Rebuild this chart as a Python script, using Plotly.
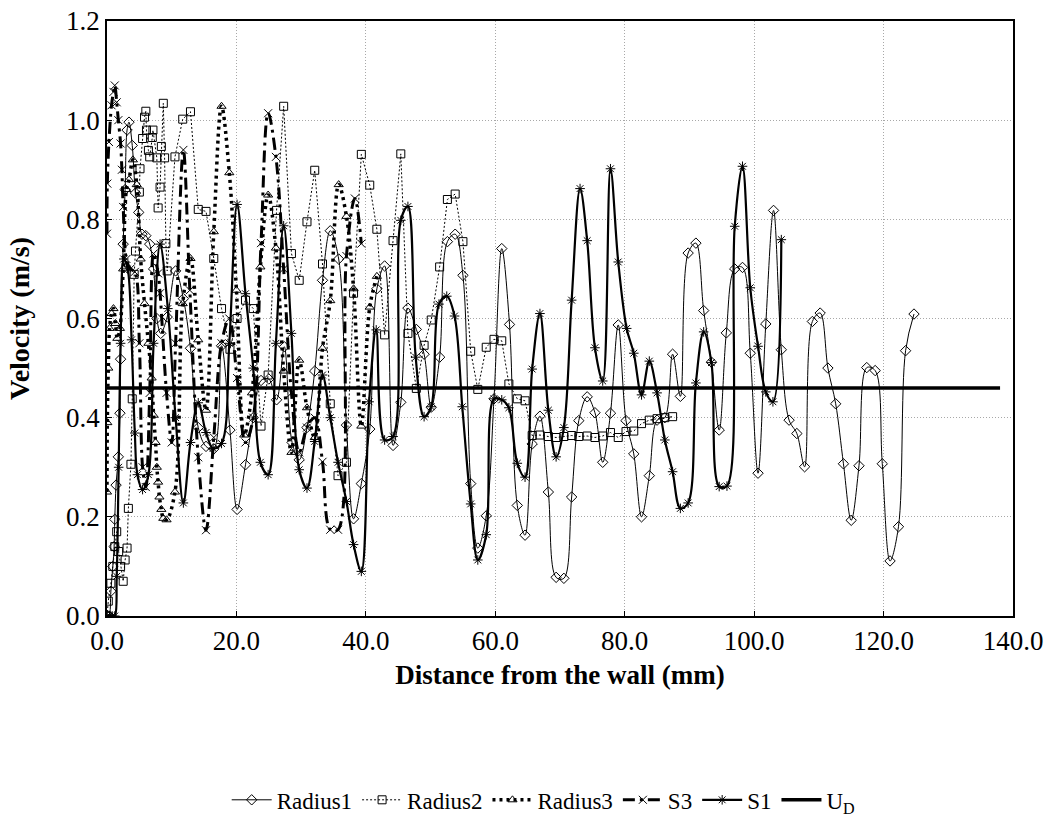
import plotly.graph_objects as go

# Velocity profiles: distance from the wall (mm) vs. velocity (m/s)
R1_X = [0.0, 0.3, 0.6, 0.9, 1.1, 1.2, 1.4, 1.75, 2.0, 2.1, 2.5, 2.8, 3.1, 3.4, 3.9, 4.4, 4.9, 5.4, 6.0, 6.6,
        7.2, 7.7, 8.3, 9.3, 10.6, 11.8, 12.9, 14.1, 15.3, 16.5, 17.7, 19.0, 20.1, 21.4, 22.6, 23.8, 25.0, 26.2, 27.4, 28.6,
        29.7, 30.9, 32.1, 33.3, 34.5, 35.8, 37.0, 38.1, 39.3, 40.6, 41.7, 42.9, 44.2, 45.4, 46.5, 47.8, 49.0, 50.1, 51.4, 52.6,
        53.8, 55.0, 56.2, 57.3, 58.6, 59.8, 61.0, 62.2, 63.4, 64.6, 65.7, 66.9, 68.2, 69.4, 70.6, 71.8, 72.9, 74.2, 75.4, 76.6,
        77.8, 79.0, 80.2, 81.4, 82.6, 83.8, 85.0, 86.2, 87.4, 88.6, 89.8, 91.0, 92.2, 93.4, 94.6, 95.7, 97.0, 98.2, 99.4, 100.6,
        101.8, 103.0, 104.2, 105.4, 106.6, 107.8, 109.0, 110.2, 111.4, 112.6, 113.8, 115.0, 116.2, 117.4, 118.7, 119.8, 121.0, 122.3, 123.4, 124.7]
R1_Y = [0.0, 0.0, 0.05, 0.10, 0.14, 0.195, 0.264, 0.321, 0.409, 0.518, 0.75, 0.86, 0.98, 0.996, 0.949, 0.853, 0.814, 0.77, 0.767, 0.75,
        0.70, 0.60, 0.57, 0.603, 0.696, 0.64, 0.54, 0.38, 0.342, 0.337, 0.545, 0.375, 0.215, 0.305, 0.40, 0.475, 0.478, 0.436, 0.543, 0.35,
        0.315, 0.38, 0.494, 0.677, 0.777, 0.72, 0.385, 0.196, 0.267, 0.377, 0.66, 0.706, 0.344, 0.431, 0.621, 0.578, 0.528, 0.421, 0.522, 0.755,
        0.77, 0.687, 0.267, 0.137, 0.202, 0.438, 0.741, 0.588, 0.223, 0.163, 0.347, 0.403, 0.25, 0.078, 0.076, 0.24, 0.394, 0.442, 0.41, 0.31,
        0.409, 0.587, 0.394, 0.327, 0.20, 0.283, 0.395, 0.40, 0.528, 0.443, 0.732, 0.752, 0.616, 0.512, 0.375, 0.571, 0.70, 0.703, 0.53, 0.288,
        0.589, 0.818, 0.537, 0.395, 0.368, 0.301, 0.594, 0.611, 0.50, 0.428, 0.307, 0.193, 0.303, 0.501, 0.495, 0.307, 0.111, 0.18, 0.535, 0.609]

R2_X = [0.0, 0.2, 0.6, 0.9, 1.2, 1.5, 1.8, 2.1, 2.5, 2.8, 3.1, 3.3, 3.7, 3.9, 4.2, 4.4, 5.0, 5.1, 5.5, 5.8,
        6.0, 6.1, 6.4, 6.6, 7.0, 7.1, 7.7, 7.9, 8.2, 8.4, 8.7, 8.9, 9.1, 9.3, 10.5, 11.7, 12.9, 14.1, 15.3, 16.5,
        17.7, 19.0, 20.1, 21.4, 22.6, 23.8, 24.9, 26.2, 27.3, 28.5, 29.7, 30.9, 32.1, 33.3, 34.5, 35.7, 37.0, 38.1, 39.3, 40.6,
        41.7, 42.9, 44.2, 45.4, 46.5, 47.8, 49.0, 50.1, 51.4, 52.6, 53.8, 55.0, 56.2, 57.3, 58.6, 59.8, 61.0, 62.1, 63.4, 64.6,
        65.7, 66.9, 68.2, 69.4, 70.6, 71.8, 72.9, 74.2, 75.4, 76.6, 77.8, 79.0, 80.2, 81.4, 82.6, 83.8, 85.0, 86.2, 87.4]
R2_Y = [0.0, 0.03, 0.066, 0.10, 0.14, 0.17, 0.13, 0.10, 0.07, 0.113, 0.137, 0.217, 0.306, 0.438, 0.689, 0.736, 0.855, 0.902, 0.963, 1.006,
        1.018, 0.98, 0.939, 0.926, 0.965, 0.98, 0.924, 0.823, 0.865, 0.947, 1.034, 0.924, 0.751, 0.696, 0.926, 1.002, 1.017, 0.82, 0.816, 0.721,
        0.62, 0.538, 0.60, 0.637, 0.62, 0.383, 0.486, 0.818, 1.028, 0.731, 0.677, 0.795, 0.899, 0.71, 0.428, 0.283, 0.31, 0.651, 0.931, 0.869,
        0.78, 0.567, 0.757, 0.932, 0.57, 0.459, 0.546, 0.597, 0.704, 0.84, 0.851, 0.755, 0.534, 0.457, 0.542, 0.558, 0.555, 0.468, 0.438, 0.434,
        0.364, 0.365, 0.362, 0.36, 0.362, 0.364, 0.362, 0.363, 0.36, 0.363, 0.37, 0.36, 0.372, 0.373, 0.388, 0.395, 0.398, 0.40, 0.402]

R3_X = [0.0, 0.05, 0.2, 0.4, 0.7, 1.0, 1.3, 1.6, 2.0, 2.5, 3.0, 3.4, 4.0, 4.6, 5.2, 5.8, 6.4, 6.9, 7.2, 7.5,
        7.7, 7.9, 8.1, 8.4, 8.7, 9.2, 10.5, 11.7, 12.9, 14.1, 15.3, 16.5, 17.7, 18.9, 20.0, 21.2, 22.4, 23.7, 24.9, 26.1,
        27.3, 28.5, 29.7, 30.9, 32.1, 33.3, 34.5, 35.8, 37.0, 38.1, 39.3, 40.6, 41.7]
R3_Y = [0.25, 0.39, 0.50, 0.58, 0.61, 0.62, 0.59, 0.56, 0.58, 0.70, 0.86, 0.88, 0.92, 0.87, 0.72, 0.63, 0.55, 0.48, 0.405, 0.35,
        0.30, 0.27, 0.24, 0.215, 0.197, 0.194, 0.25, 0.63, 0.721, 0.557, 0.415, 0.775, 1.028, 0.894, 0.657, 0.365, 0.45, 0.704, 0.849, 0.742,
        0.494, 0.33, 0.516, 0.42, 0.36, 0.54, 0.636, 0.87, 0.806, 0.66, 0.383, 0.623, 0.685]

S3_X = [0.0, 0.05, 0.3, 0.7, 1.0, 1.2, 1.5, 1.75, 2.1, 2.3, 2.5, 3.0, 3.6, 4.3, 5.0, 5.5, 6.0, 6.6, 7.2, 7.9,
        8.2, 9.2, 10.0, 10.6, 11.8, 12.8, 14.1, 15.3, 16.5, 17.7, 18.9, 20.1, 21.4, 22.6, 23.8, 24.9, 26.1, 27.3, 28.5, 29.7,
        30.9, 32.1, 33.3, 34.5, 35.7, 37.0, 38.3, 39.3]
S3_Y = [0.771, 0.872, 0.956, 1.03, 1.057, 1.07, 1.036, 1.0, 0.953, 0.90, 0.825, 0.72, 0.70, 0.694, 0.55, 0.30, 0.26, 0.45, 0.731, 0.691,
        0.651, 0.45, 0.35, 0.55, 0.94, 0.657, 0.32, 0.173, 0.36, 0.55, 0.60, 0.48, 0.35, 0.40, 0.752, 1.014, 0.926, 0.70, 0.45, 0.33,
        0.38, 0.40, 0.311, 0.174, 0.174, 0.726, 0.842, 0.751]

S1_X = [0.0, 0.4, 0.8, 1.2, 1.5, 1.8, 2.1, 2.6, 3.2, 3.8, 4.3, 4.7, 5.5, 6.4, 7.2, 8.2, 9.4, 10.6, 11.8, 12.9,
        14.1, 15.3, 16.4, 17.7, 18.9, 20.1, 21.4, 22.6, 23.7, 24.9, 26.1, 27.3, 28.5, 29.7, 30.9, 32.1, 33.3, 34.5, 35.7, 37.0,
        38.1, 39.3, 40.5, 41.6, 42.9, 44.2, 45.4, 46.5, 47.7, 49.0, 50.1, 51.3, 52.5, 53.7, 54.9, 56.2, 57.3, 58.6, 59.8, 61.0,
        62.1, 63.4, 64.6, 65.7, 66.9, 68.2, 69.4, 70.6, 71.8, 73.1, 74.2, 75.4, 76.6, 77.8, 79.0, 80.3, 81.4, 82.6, 83.8, 85.0,
        86.2, 87.4, 88.6, 89.8, 91.0, 92.2, 93.4, 94.6, 95.8, 97.0, 98.2, 99.4, 100.6, 101.8, 102.9, 104.2]
S1_Y = [0.0, 0.0, 0.0, 0.0, 0.08, 0.30, 0.55, 0.72, 0.70, 0.557, 0.369, 0.285, 0.255, 0.285, 0.55, 0.75, 0.62, 0.40, 0.228, 0.35,
        0.43, 0.37, 0.338, 0.348, 0.55, 0.83, 0.65, 0.50, 0.31, 0.285, 0.55, 0.787, 0.57, 0.295, 0.258, 0.352, 0.486, 0.40, 0.31, 0.231,
        0.144, 0.09, 0.432, 0.577, 0.355, 0.362, 0.798, 0.826, 0.522, 0.402, 0.422, 0.629, 0.645, 0.605, 0.422, 0.226, 0.113, 0.164, 0.438, 0.436,
        0.42, 0.308, 0.28, 0.498, 0.61, 0.415, 0.321, 0.38, 0.637, 0.862, 0.757, 0.541, 0.474, 0.902, 0.714, 0.58, 0.53, 0.446, 0.514, 0.45,
        0.355, 0.291, 0.217, 0.228, 0.47, 0.573, 0.511, 0.261, 0.262, 0.786, 0.907, 0.662, 0.544, 0.452, 0.432, 0.759]

UD_X = [0.0, 138.0]
UD_Y = [0.46, 0.46]

X_TICKS = [0, 20, 40, 60, 80, 100, 120, 140]
Y_TICKS = [0.0, 0.2, 0.4, 0.6, 0.8, 1.0, 1.2]

FONT = "Liberation Serif"
BLACK = "#000000"

fig = go.Figure()

fig.add_trace(go.Scatter(
    x=R1_X, y=R1_Y, name="Radius1", mode="lines+markers",
    line=dict(color=BLACK, width=1, shape="spline", smoothing=1.0),
    marker=dict(symbol="diamond-open", size=8, color=BLACK, line=dict(width=1)),
))
fig.add_trace(go.Scatter(
    x=R2_X, y=R2_Y, name="Radius2", mode="lines+markers",
    line=dict(color=BLACK, width=1, dash="2px,2px"),
    marker=dict(symbol="square-open", size=8, color=BLACK, line=dict(width=1)),
))
fig.add_trace(go.Scatter(
    x=R3_X, y=R3_Y, name="Radius3", mode="lines+markers",
    line=dict(color=BLACK, width=3.5, dash="3px,4px", shape="spline", smoothing=1.0),
    marker=dict(symbol="triangle-up-open", size=8, color=BLACK, line=dict(width=1)),
))
fig.add_trace(go.Scatter(
    x=S3_X, y=S3_Y, name="S3", mode="lines+markers",
    line=dict(color=BLACK, width=3, dash="12px,5px,3px,5px", shape="spline", smoothing=1.0),
    marker=dict(symbol="x-thin-open", size=8, color=BLACK, line=dict(width=1, color=BLACK)),
))
fig.add_trace(go.Scatter(
    x=S1_X, y=S1_Y, name="S1", mode="lines+markers",
    line=dict(color=BLACK, width=2.2, shape="spline", smoothing=1.0),
    marker=dict(symbol="asterisk-open", size=8, color=BLACK, line=dict(width=1, color=BLACK)),
))
fig.add_trace(go.Scatter(
    x=UD_X, y=UD_Y, name="U<sub>D</sub>", mode="lines",
    line=dict(color=BLACK, width=3.5),
))

axis_common = dict(
    showline=True, linecolor=BLACK, linewidth=1.5, mirror=True,
    showgrid=True, gridcolor="#a8a8a8", gridwidth=1, griddash="1px,2px",
    ticks="inside", ticklen=5, tickcolor=BLACK,
    zeroline=False, tickfont=dict(family=FONT, size=27, color=BLACK),
)

fig.update_xaxes(
    range=[0, 140], tickvals=X_TICKS, tickformat=".1f",
    title=dict(text="<b>Distance from the wall (mm)</b>", font=dict(family=FONT, size=27, color=BLACK), standoff=10),
    **axis_common,
)
fig.update_yaxes(
    range=[0, 1.2], tickvals=Y_TICKS, tickformat=".1f",
    title=dict(text="<b>Velocity (m/s)</b>", font=dict(family=FONT, size=28, color=BLACK), standoff=28),
    **axis_common,
)

fig.update_layout(
    width=1055, height=820,
    margin=dict(l=107, r=42, t=21, b=204, autoexpand=False),
    paper_bgcolor="white", plot_bgcolor="white",
    font=dict(family=FONT, color=BLACK),
    showlegend=True,
    legend=dict(
        orientation="h", x=0.482, xanchor="center", y=-0.309, yanchor="middle",
        font=dict(family=FONT, size=23, color=BLACK),
        itemwidth=40, tracegroupgap=0, bgcolor="rgba(0,0,0,0)",
    ),
)

fig.write_html("out.html")
